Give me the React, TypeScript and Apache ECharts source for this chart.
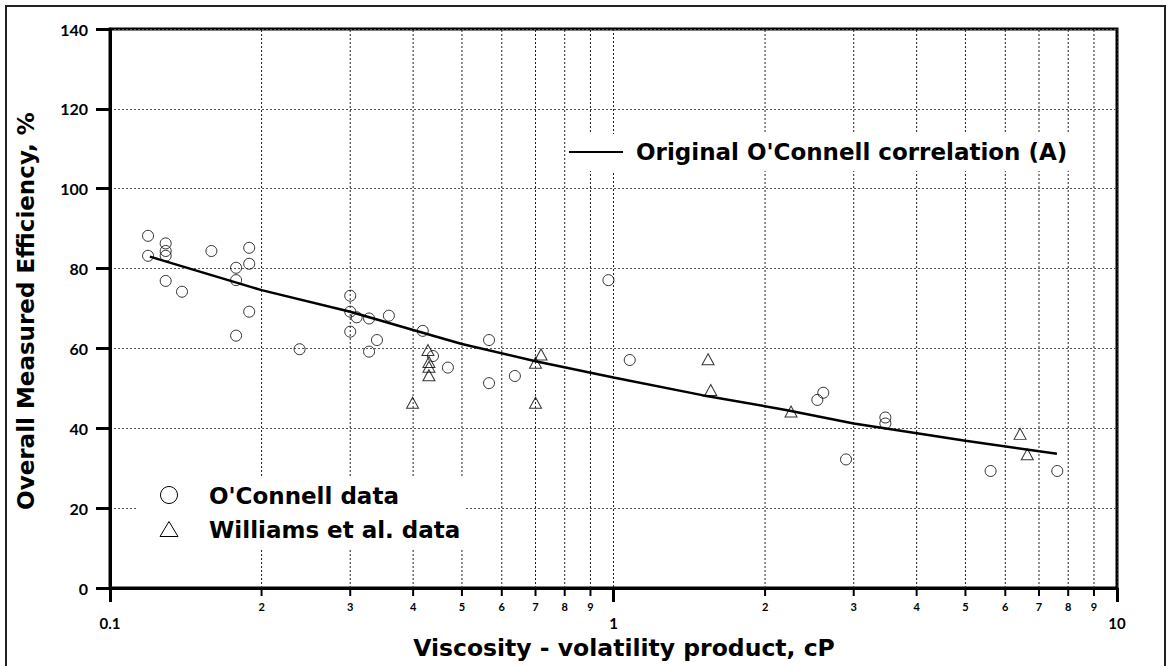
import { useEffect, useRef } from "react";
import * as echarts from "echarts";

// O'Connell tray efficiency data: [viscosity-volatility product (cP), efficiency (%)]
const oconnellData: [number, number][] = [
  [0.119, 88.2], [0.119, 83.2], [0.129, 86.3], [0.129, 84.4], [0.129, 83.2],
  [0.129, 76.9], [0.139, 74.2], [0.159, 84.4], [0.189, 85.2], [0.189, 81.2],
  [0.178, 80.2], [0.178, 77.1], [0.189, 69.2], [0.178, 63.2], [0.238, 59.8],
  [0.3, 73.2], [0.3, 69.2], [0.309, 67.8], [0.327, 67.5], [0.358, 68.2],
  [0.3, 64.2], [0.339, 62.1], [0.327, 59.2], [0.418, 64.4], [0.438, 58.1],
  [0.469, 55.2], [0.566, 62.1], [0.566, 51.3], [0.637, 53.1], [0.977, 77.1],
  [1.077, 57.1], [2.54, 47.1], [2.61, 48.9], [2.896, 32.2], [3.467, 42.7],
  [3.467, 41.2], [5.61, 29.3], [7.61, 29.3],
];

// Williams et al. data
const williamsData: [number, number][] = [
  [0.428, 59.6], [0.43, 56.6], [0.43, 55.4], [0.43, 53.3], [0.399, 46.4],
  [0.718, 58.5], [0.7, 56.4], [0.7, 46.4], [1.541, 57.3], [1.56, 49.6],
  [2.252, 44.2], [6.42, 38.6], [6.635, 33.5],
];

// Original O'Connell correlation curve
const correlationCurve: [number, number][] = [
  [0.12, 83.0], [0.2, 74.6], [0.3, 69.2], [0.4, 64.6], [0.5, 61.1],
  [0.7, 56.8], [1, 52.7], [1.5, 48.3], [2.2, 44.6], [3, 41.2],
  [5, 36.9], [7.6, 33.6],
];

// Intermediate log-decade positions (2..9 in each decade)
const minorGridValues: number[] = [
  0.2, 0.3, 0.4, 0.5, 0.6, 0.7, 0.8, 0.9,
  2, 3, 4, 5, 6, 7, 8, 9,
];

const Y_MIN = 0;
const Y_MAX = 140;
const Y_STEP = 20;

const TICK_FONT = "Lato, 'DejaVu Sans', sans-serif";
const TITLE_FONT = "'DejaVu Sans', Lato, sans-serif";
const TITLE_SIZE = 23;

export default function App() {
  const ref = useRef<HTMLDivElement>(null);

  useEffect(() => {
    document.body.style.margin = "0";
    if (!ref.current) return;
    const chart = echarts.init(ref.current, undefined, { renderer: "svg" });

    const textStyle = (text: string, size: number, align = "left", family = TITLE_FONT) => ({
      text,
      font: `bold ${size}px ${family}`,
      fill: "#000",
      align,
      textAlign: align,
      verticalAlign: "middle",
      textVerticalAlign: "middle",
    });

    chart.setOption({
      animation: false,
      backgroundColor: "#fff",
      grid: {
        left: 110,
        top: 29,
        width: 1007,
        height: 559,
        show: true,
        borderColor: "#000",
        borderWidth: 3,
        backgroundColor: "transparent",
      },
      xAxis: {
        type: "log",
        logBase: 10,
        min: 0.1,
        max: 10,
        axisLine: { show: true, lineStyle: { color: "#000", width: 3 } },
        axisTick: { show: true, inside: false, length: 14, lineStyle: { color: "#000", width: 3 } },
        axisLabel: {
          color: "#000",
          fontFamily: TICK_FONT,
          fontWeight: "bold",
          fontSize: 15,
          margin: 27,
        },
        splitLine: { show: true, lineStyle: { color: "#222", width: 1, type: [2, 2] } },
      },
      yAxis: {
        type: "value",
        min: Y_MIN,
        max: Y_MAX,
        interval: Y_STEP,
        axisLine: { show: true, lineStyle: { color: "#000", width: 3 } },
        axisTick: { show: true, inside: false, length: 14, lineStyle: { color: "#000", width: 3 } },
        axisLabel: {
          color: "#000",
          fontFamily: TICK_FONT,
          fontWeight: "bold",
          fontSize: 16,
          margin: 22,
        },
        splitLine: { show: true, lineStyle: { color: "#555", width: 1.2, type: [2, 2] } },
      },
      series: [
        {
          // dotted grid lines, short ticks and digit labels at 2..9 of each decade
          type: "custom",
          z: 1,
          silent: true,
          clip: false,
          data: minorGridValues.map((v) => [v, Y_MIN]),
          renderItem: (_params: any, api: any) => {
            const v = api.value(0) as number;
            const base = api.coord([v, Y_MIN]);
            const top = api.coord([v, Y_MAX]);
            const digit = String(Math.round(v / Math.pow(10, Math.floor(Math.log10(v) + 1e-9))));
            return {
              type: "group",
              children: [
                {
                  type: "line",
                  shape: { x1: base[0], y1: base[1], x2: top[0], y2: top[1] },
                  style: { stroke: "#222", lineWidth: 1, lineDash: [2, 2] },
                },
                {
                  type: "line",
                  shape: { x1: base[0], y1: base[1], x2: base[0], y2: base[1] + 8 },
                  style: { stroke: "#000", lineWidth: 2 },
                },
                {
                  type: "text",
                  x: base[0],
                  y: base[1] + 18,
                  style: textStyle(digit, 11, "center", TICK_FONT),
                },
              ],
            };
          },
        },
        {
          name: "Original O'Connell correlation (A)",
          type: "line",
          z: 3,
          data: correlationCurve,
          showSymbol: false,
          symbol: "none",
          lineStyle: { color: "#000", width: 2.5 },
          silent: true,
        },
        {
          name: "O'Connell data",
          type: "scatter",
          z: 4,
          data: oconnellData,
          symbol: "circle",
          symbolSize: 11,
          itemStyle: { color: "rgba(255,255,255,0)", borderColor: "#000", borderWidth: 1 },
          silent: true,
        },
        {
          name: "Williams et al. data",
          type: "scatter",
          z: 4,
          data: williamsData,
          symbol: "triangle",
          symbolSize: [12, 11],
          itemStyle: { color: "rgba(255,255,255,0)", borderColor: "#000", borderWidth: 1 },
          silent: true,
        },
      ],
      graphic: [
        // outer frame
        {
          type: "rect",
          z: 100,
          shape: { x: 6, y: 6, width: 1159, height: 680 },
          style: { fill: "none", stroke: "#222", lineWidth: 2 },
        },
        // correlation key
        {
          type: "rect",
          z: 100,
          shape: { x: 566, y: 134, width: 510, height: 37 },
          style: { fill: "#fff" },
        },
        {
          type: "line",
          z: 101,
          shape: { x1: 569, y1: 152, x2: 623, y2: 152 },
          style: { stroke: "#000", lineWidth: 2 },
        },
        {
          type: "text",
          z: 101,
          x: 636,
          y: 152,
          style: textStyle("Original O'Connell correlation (A)", TITLE_SIZE),
        },
        // data key
        {
          type: "rect",
          z: 100,
          shape: { x: 138, y: 477, width: 326, height: 71 },
          style: { fill: "#fff" },
        },
        {
          type: "circle",
          z: 101,
          shape: { cx: 169, cy: 495, r: 8.5 },
          style: { fill: "none", stroke: "#000", lineWidth: 1 },
        },
        {
          type: "polygon",
          z: 101,
          shape: { points: [[169, 521.5], [160, 536.5], [178, 536.5]] },
          style: { fill: "none", stroke: "#000", lineWidth: 1 },
        },
        {
          type: "text",
          z: 101,
          x: 209,
          y: 496,
          style: textStyle("O'Connell data", TITLE_SIZE),
        },
        {
          type: "text",
          z: 101,
          x: 209,
          y: 530,
          style: textStyle("Williams et al. data", TITLE_SIZE),
        },
        // axis titles
        {
          type: "text",
          z: 101,
          x: 624,
          y: 648,
          style: textStyle("Viscosity - volatility product, cP", TITLE_SIZE + 0.5, "center"),
        },
        {
          type: "text",
          z: 101,
          x: 26,
          y: 311,
          rotation: Math.PI / 2,
          style: textStyle("Overall Measured Efficiency, %", TITLE_SIZE, "center"),
        },
      ],
    });

    return () => chart.dispose();
  }, []);

  return <div ref={ref} style={{ width: 1167, height: 666 }} />;
}
